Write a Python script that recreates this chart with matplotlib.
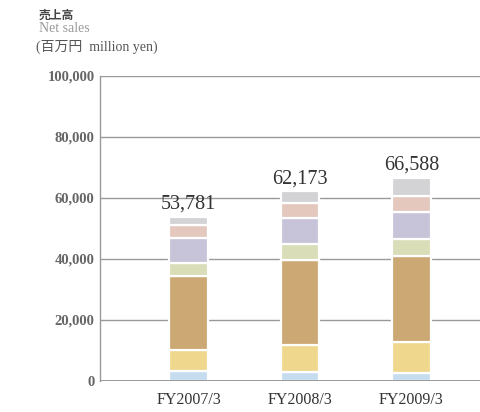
import matplotlib
matplotlib.use("Agg")
import matplotlib.pyplot as plt
import numpy as np

# Net sales by segment (million yen), stacked bottom to top
years = ["FY2007/3", "FY2008/3", "FY2009/3"]
totals = [53781, 62173, 66588]
seg_blue = [3200, 2850, 2500]
seg_yellow = [7000, 8850, 10200]
seg_brown = [24200, 28000, 28100]
seg_green = [4300, 5200, 5800]
seg_purple = [8000, 8500, 8700]
seg_pink = [4500, 5000, 5400]
seg_gray = [2581, 3773, 5888]

segments = [seg_blue, seg_yellow, seg_brown, seg_green, seg_purple, seg_pink, seg_gray]
colors = ["#c6ddf0", "#f0d78e", "#cca874", "#d9ddb8", "#c7c3d9", "#e4c8be", "#d3d3d5"]

yticks = [0, 20000, 40000, 60000, 80000, 100000]
ytick_labels = ["0", "20,000", "40,000", "60,000", "80,000", "100,000"]

serif = ["Liberation Serif", "DejaVu Serif"]
cjk = ["Noto Sans CJK JP", "DejaVu Sans"]

fig = plt.figure(figsize=(4.81, 4.12), dpi=100)
ax = fig.add_axes([100 / 481, 31 / 412, 381 / 481, 305.3 / 412])

x = np.arange(len(years))
bottom = np.zeros(len(years))
for vals, c in zip(segments, colors):
    ax.bar(x, vals, width=0.35, bottom=bottom, color=c, edgecolor="white",
           linewidth=1.6, zorder=3)
    bottom += np.array(vals)

for xi, t in zip(x, totals):
    ax.annotate(f"{t:,}", (xi, t), xytext=(0, 2), textcoords="offset points",
                ha="center", va="bottom", fontsize=14.5, color="#333333",
                family=serif)

ax.set_xlim(-0.797, 2.626)
ax.set_ylim(0, 100000)
ax.set_yticks(yticks)
ax.set_yticklabels(ytick_labels, family=serif, fontsize=10.5, color="#666666",
                   fontweight="bold")
ax.set_xticks(x)
ax.set_xticklabels(years, family=serif, fontsize=11.5, color="#333333")
ax.tick_params(axis="y", length=0, pad=4)
ax.tick_params(axis="x", length=0, pad=8)

for yv in yticks[1:]:
    ax.axhline(yv, color="#999999", linewidth=1.0, zorder=1)
ax.axhline(0, color="#888888", linewidth=1.2, zorder=4)

for s in ["top", "right", "bottom"]:
    ax.spines[s].set_visible(False)
ax.spines["left"].set_color("#999999")
ax.spines["left"].set_linewidth(1.0)

fig.text(39 / 481, 1 - 15 / 412, "売上高", family=cjk, fontsize=8.5,
         fontweight="bold", color="#444444", va="center", ha="left")
fig.text(39 / 481, 1 - 28.5 / 412, "Net sales", family=serif, fontsize=10,
         color="#9a9a9a", va="center", ha="left")
fig.text(36 / 481, 1 - 47 / 412, "(百万円  million yen)",
         family=["Liberation Serif", "Noto Sans CJK JP"], fontsize=10,
         color="#555555", va="center", ha="left")

fig.savefig("out.png", dpi=100)
